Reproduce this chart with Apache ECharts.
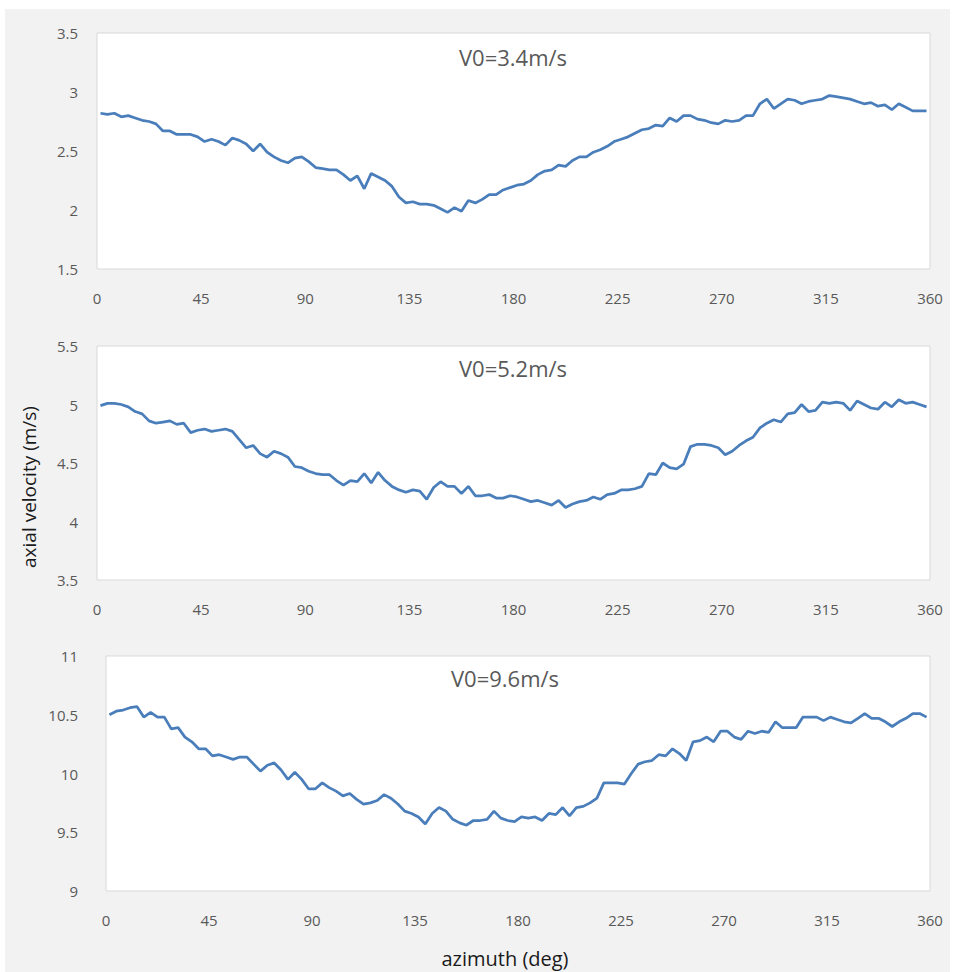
<!DOCTYPE html>
<html>
<head>
<meta charset="utf-8">
<script src="https://cdn.jsdelivr.net/npm/echarts@6/dist/echarts.min.js"></script>
<style>
html,body{margin:0;padding:0;background:#fff;}
#chart{width:954px;height:972px;}
</style>
</head>
<body>
<div id="chart"></div>
<script>
const azimuth = [1.5,4.5,7.5,10.5,13.5,16.5,19.5,22.5,25.5,28.5,31.5,34.5,37.5,40.5,43.5,46.5,49.5,52.5,55.5,58.5,
61.5,64.5,67.5,70.5,73.5,76.5,79.5,82.5,85.5,88.5,91.5,94.5,97.5,100.5,103.5,106.5,109.5,112.5,115.5,118.5,
121.5,124.5,127.5,130.5,133.5,136.5,139.5,142.5,145.5,148.5,151.5,154.5,157.5,160.5,163.5,166.5,169.5,172.5,175.5,178.5,
181.5,184.5,187.5,190.5,193.5,196.5,199.5,202.5,205.5,208.5,211.5,214.5,217.5,220.5,223.5,226.5,229.5,232.5,235.5,238.5,
241.5,244.5,247.5,250.5,253.5,256.5,259.5,262.5,265.5,268.5,271.5,274.5,277.5,280.5,283.5,286.5,289.5,292.5,295.5,298.5,
301.5,304.5,307.5,310.5,313.5,316.5,319.5,322.5,325.5,328.5,331.5,334.5,337.5,340.5,343.5,346.5,349.5,352.5,355.5,358.5];

const v34 = [2.82,2.81,2.82,2.79,2.80,2.78,2.76,2.75,2.73,2.67,
2.67,2.64,2.64,2.64,2.62,2.58,2.60,2.58,2.55,2.61,
2.59,2.56,2.50,2.56,2.49,2.45,2.42,2.40,2.44,2.45,
2.41,2.36,2.35,2.34,2.34,2.30,2.25,2.29,2.18,2.31,
2.28,2.25,2.20,2.11,2.06,2.07,2.05,2.05,2.04,2.01,
1.98,2.02,1.99,2.08,2.06,2.09,2.13,2.13,2.17,2.19,
2.21,2.22,2.25,2.30,2.33,2.34,2.38,2.37,2.42,2.45,
2.45,2.49,2.51,2.54,2.58,2.60,2.62,2.65,2.68,2.69,
2.72,2.71,2.78,2.75,2.80,2.80,2.77,2.76,2.74,2.73,
2.76,2.75,2.76,2.80,2.80,2.90,2.94,2.86,2.90,2.94,
2.93,2.90,2.92,2.93,2.94,2.97,2.96,2.95,2.94,2.92,
2.90,2.91,2.88,2.89,2.85,2.90,2.87,2.84,2.84,2.84];

const v52 = [4.99,5.01,5.01,5.00,4.98,4.94,4.92,4.86,4.84,4.85,
4.86,4.83,4.84,4.76,4.78,4.79,4.77,4.78,4.79,4.77,
4.70,4.63,4.65,4.58,4.55,4.60,4.58,4.55,4.47,4.46,
4.43,4.41,4.40,4.40,4.35,4.31,4.35,4.34,4.41,4.33,
4.42,4.35,4.30,4.27,4.25,4.27,4.26,4.19,4.29,4.34,
4.30,4.30,4.24,4.30,4.22,4.22,4.23,4.20,4.20,4.22,
4.21,4.19,4.17,4.18,4.16,4.14,4.18,4.12,4.15,4.17,
4.18,4.21,4.19,4.23,4.24,4.27,4.27,4.28,4.30,4.41,
4.40,4.50,4.46,4.45,4.49,4.64,4.66,4.66,4.65,4.63,
4.57,4.60,4.65,4.69,4.72,4.80,4.84,4.87,4.85,4.92,
4.93,5.00,4.94,4.95,5.02,5.01,5.02,5.01,4.95,5.03,
5.00,4.97,4.96,5.02,4.98,5.04,5.01,5.02,5.00,4.98];

const v96 = [10.50,10.53,10.54,10.56,10.57,10.48,10.52,10.48,10.48,10.38,
10.39,10.31,10.27,10.21,10.21,10.15,10.16,10.14,10.12,10.14,
10.14,10.08,10.02,10.07,10.09,10.03,9.95,10.01,9.95,9.87,
9.87,9.92,9.88,9.85,9.81,9.83,9.78,9.74,9.75,9.77,
9.82,9.79,9.74,9.68,9.66,9.63,9.57,9.66,9.71,9.68,
9.61,9.58,9.56,9.60,9.60,9.61,9.68,9.62,9.60,9.59,
9.63,9.62,9.63,9.60,9.66,9.65,9.71,9.64,9.71,9.72,
9.75,9.79,9.92,9.92,9.92,9.91,10.00,10.08,10.10,10.11,
10.16,10.15,10.21,10.17,10.11,10.27,10.28,10.31,10.27,10.36,
10.36,10.31,10.29,10.36,10.34,10.36,10.35,10.44,10.39,10.39,
10.39,10.48,10.48,10.48,10.45,10.48,10.46,10.44,10.43,10.47,
10.51,10.47,10.47,10.44,10.40,10.44,10.47,10.51,10.51,10.48];

const panelTitles = ['V0=3.4m/s', 'V0=5.2m/s', 'V0=9.6m/s'];
const yRanges = [[1.5, 3.5], [3.5, 5.5], [9, 11]];
const seriesValues = [v34, v52, v96];
const xTicks = [0, 360, 45];
const yAxisTitle = 'axial velocity (m/s)';
const xAxisTitle = 'azimuth (deg)';

const FONT = '"Liberation Sans Narrow", "Open Sans", "Noto Sans", sans-serif';
const grids = [
  {left: 97, top: 33, width: 833, height: 236},
  {left: 97, top: 346, width: 833, height: 234},
  {left: 106, top: 656, width: 824, height: 235}
];
const yMargins = [19, 19, 28];
const titlePos = [[513, 57], [513, 368], [505, 678]];

const chart = echarts.init(document.getElementById('chart'), null, {renderer: 'svg'});
const option = {
  backgroundColor: '#ffffff',
  animation: false,
  grid: grids.map(g => Object.assign({show: true, backgroundColor: '#ffffff', borderColor: '#d9d9d9', borderWidth: 1, containLabel: false}, g)),
  xAxis: grids.map((g, i) => ({
    type: 'value', gridIndex: i, min: xTicks[0], max: xTicks[1], interval: xTicks[2],
    axisLine: {show: false}, axisTick: {show: false}, splitLine: {show: false},
    axisLabel: {color: '#595959', fontSize: 15, fontFamily: FONT, margin: 21}
  })),
  yAxis: grids.map((g, i) => ({
    type: 'value', gridIndex: i, min: yRanges[i][0], max: yRanges[i][1], interval: 0.5,
    axisLine: {show: false}, axisTick: {show: false}, splitLine: {show: false},
    axisLabel: {color: '#595959', fontSize: 15, fontFamily: FONT, margin: yMargins[i]}
  })),
  series: seriesValues.map((vals, i) => ({
    type: 'line', xAxisIndex: i, yAxisIndex: i,
    data: azimuth.map((a, k) => [a, vals[k]]),
    showSymbol: false, symbol: 'none',
    lineStyle: {color: '#4a7ebb', width: 2.75},
    itemStyle: {color: '#4a7ebb'}
  })),
  graphic: [
    {type: 'rect', shape: {x: 5, y: 9, width: 945, height: 963}, style: {fill: '#f2f2f2'}, z: -10, silent: true},
    ...panelTitles.map((t, i) => ({
      type: 'text', x: titlePos[i][0], y: titlePos[i][1], z: 10,
      style: {text: t, fill: '#595959', font: '22px ' + FONT, textAlign: 'center', textVerticalAlign: 'middle'}
    })),
    {type: 'text', x: 29, y: 487, rotation: Math.PI / 2, z: 10,
     style: {text: yAxisTitle, fill: '#1a1a1a', font: '19px ' + FONT, textAlign: 'center', textVerticalAlign: 'middle'}},
    {type: 'text', x: 505, y: 958, z: 10,
     style: {text: xAxisTitle, fill: '#1a1a1a', font: '20px ' + FONT, textAlign: 'center', textVerticalAlign: 'middle'}}
  ]
};
chart.setOption(option);
</script>
</body>
</html>
